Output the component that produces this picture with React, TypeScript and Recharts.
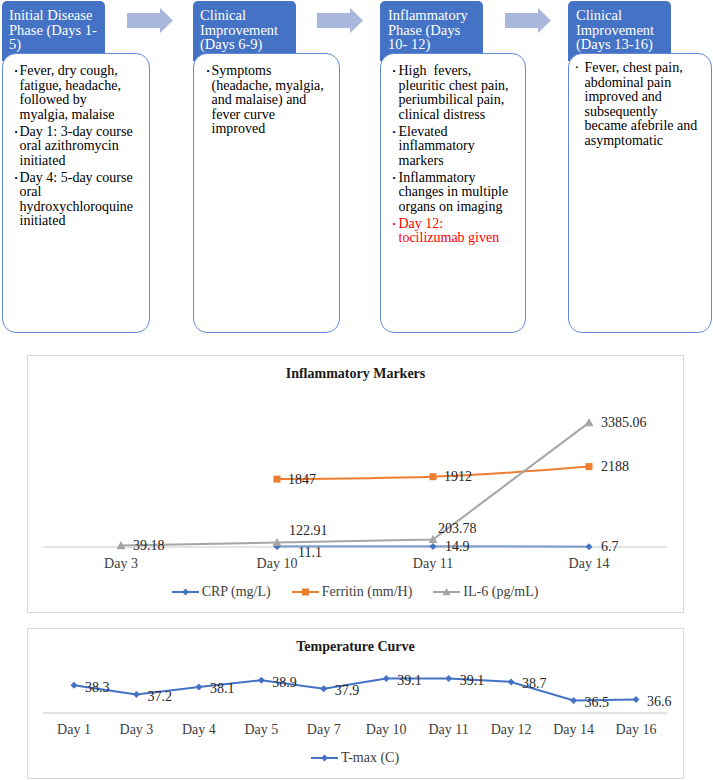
import React from "react";
import { LineChart, Line, XAxis, YAxis, Legend, LabelList } from "recharts";

// ---- chart data ----
const markerDays = ["Day 3", "Day 10", "Day 11", "Day 14"];
const crpValues = [null, 11.1, 14.9, 6.7];
const ferritinValues = [null, 1847, 1912, 2188];
const il6Values = [39.18, 122.91, 203.78, 3385.06];

const tempDays = ["Day 1", "Day 3", "Day 4", "Day 5", "Day 7", "Day 10", "Day 11", "Day 12", "Day 14", "Day 16"];
const tmaxValues = [38.3, 37.2, 38.1, 38.9, 37.9, 39.1, 39.1, 38.7, 36.5, 36.6];

// ---- timeline text ----
const phaseTitles = [
  ["Initial Disease", "Phase (Days 1-", "5)"],
  ["Clinical", "Improvement", "(Days 6-9)"],
  ["Inflammatory", "Phase (Days", "10- 12)"],
  ["Clinical", "Improvement", "(Days 13-16)"],
];
const phaseNotes = [
  [
    ["Fever, dry cough,", "fatigue, headache,", "followed by", "myalgia, malaise"],
    ["Day 1: 3-day course", "oral azithromycin", "initiated"],
    ["Day 4: 5-day course", "oral", "hydroxychloroquine", "initiated"],
  ],
  [["Symptoms", "(headache, myalgia,", "and malaise) and", "fever curve", "improved"]],
  [
    ["High  fevers,", "pleuritic chest pain,", "periumbilical pain,", "clinical distress"],
    ["Elevated", "inflammatory", "markers"],
    ["Inflammatory", "changes in multiple", "organs on imaging"],
    ["Day 12:", "tocilizumab given"],
  ],
  [["Fever, chest pain,", "abdominal pain", "improved and", "subsequently", "became afebrile and", "asymptomatic"]],
];

const SERIF = '"Liberation Serif", "Times New Roman", serif';
const BLUE = "#4472C4";
const ORANGE = "#ED7D31";
const GRAY = "#A5A5A5";

const tabX = [2, 193, 380, 568];
const boxW = [148, 147, 146, 144];
const arrowX = [127, 317, 505];
const bulletDx = [13, 14, 13, 7];
const textDx = [18, 19, 19, 17];

function marker(kind: string, cx: number, cy: number, color: string, s: number) {
  if (kind === "diamond")
    return <polygon points={`${cx},${cy - s} ${cx + s},${cy} ${cx},${cy + s} ${cx - s},${cy}`} fill={color} />;
  if (kind === "square")
    return <rect x={cx - s} y={cy - s} width={s * 2} height={s * 2} fill={color} />;
  return <polygon points={`${cx},${cy - s} ${cx + s},${cy + s * 0.8} ${cx - s},${cy + s * 0.8}`} fill={color} />;
}

const makeDot = (kind: string, color: string, s: number) => (props: any) => {
  const { cx, cy, index, value } = props;
  if (cx == null || cy == null || value == null || Number.isNaN(cy)) return <g key={`d${index}`} />;
  return <g key={`d${index}`}>{marker(kind, cx, cy, color, s)}</g>;
};

const makeLabel = (offsets: number[][]) => (props: any) => {
  const { x, y, value, index } = props;
  if (value == null || x == null || y == null) return null;
  const [dx, dy] = offsets[index] || [11, 0];
  return (
    <text x={x + dx} y={y + dy} dominantBaseline="central" fontSize={14} fontFamily={SERIF} fill="#262626">
      {value}
    </text>
  );
};

function LegendRow({ items }: { items: { label: string; color: string; kind: string; s: number }[] }) {
  return (
    <div style={{ display: "flex", justifyContent: "center", alignItems: "center", height: 30, gap: 21 }}>
      {items.map((it) => (
        <div key={it.label} style={{ display: "flex", alignItems: "center" }}>
          <svg width={27} height={12}>
            <line x1={0} y1={6} x2={27} y2={6} stroke={it.color} strokeWidth={2} />
            {marker(it.kind, 13.5, 6, it.color, it.s)}
          </svg>
          <span style={{ marginLeft: 3, fontFamily: SERIF, fontSize: 14, color: "#404040" }}>{it.label}</span>
        </div>
      ))}
    </div>
  );
}

function Timeline() {
  return (
    <>
      {tabX.map((x, i) => (
        <div
          key={`tab${i}`}
          style={{
            position: "absolute",
            left: x,
            top: 1,
            width: 103,
            height: 60,
            background: BLUE,
            borderRadius: "5px 5px 0 0",
            color: "#fff",
            fontFamily: SERIF,
            fontSize: 14.5,
            lineHeight: "14.5px",
            paddingTop: 7,
            paddingLeft: i < 2 ? 7 : 8,
            boxSizing: "border-box",
          }}
        >
          {phaseTitles[i].map((t) => (
            <div key={t} style={{ whiteSpace: "nowrap" }}>{t}</div>
          ))}
        </div>
      ))}
      {arrowX.map((x, i) => (
        <svg key={`ar${i}`} style={{ position: "absolute", left: x, top: 8 }} width={46} height={26}>
          <polygon points="0,5 33,5 33,0 46,12.5 33,25 33,20 0,20" fill="#A9B7DD" />
        </svg>
      ))}
      {tabX.map((x, i) => (
        <div
          key={`box${i}`}
          style={{
            position: "absolute",
            left: x,
            top: 53,
            width: boxW[i],
            height: 280,
            background: "#fff",
            border: "1.5px solid #6189D7",
            borderRadius: 14,
            boxSizing: "border-box",
          }}
        >
          <div style={{ position: "absolute", left: textDx[i] - 1.5, top: (i === 3 ? 8.75 : 11.75) - 1.5 }}>
            {phaseNotes[i].map((para, j) => {
              const red = i === 2 && j === 3;
              return (
                <div
                  key={j}
                  style={{
                    position: "relative",
                    marginBottom: 2.5,
                    fontFamily: SERIF,
                    fontSize: 14,
                    lineHeight: "14.5px",
                    color: red ? "#FF0000" : "#000",
                  }}
                >
                  <span
                    style={{
                      position: "absolute",
                      left: bulletDx[i] - textDx[i],
                      top: 0,
                      fontSize: i === 3 ? 14 : 9,
                      lineHeight: "14.5px",
                    }}
                  >
                    {i === 3 ? "·" : "•"}
                  </span>
                  {para.map((line) => (
                    <div key={line} style={{ whiteSpace: "pre" }}>{line}</div>
                  ))}
                </div>
              );
            })}
          </div>
        </div>
      ))}
    </>
  );
}

const markerData = markerDays.map((day, i) => ({
  day,
  crp: crpValues[i],
  ferritin: ferritinValues[i],
  il6: il6Values[i],
}));

const tempData = tempDays.map((day, i) => ({ day, tmax: tmaxValues[i] }));

const tickStyle = { fill: "#404040", fontSize: 14, fontFamily: SERIF };

function ChartTitle({ text }: { text: string }) {
  return (
    <div
      style={{
        position: "absolute",
        left: 0,
        right: 0,
        top: 9,
        textAlign: "center",
        fontFamily: SERIF,
        fontWeight: "bold",
        fontSize: 14,
        lineHeight: "18px",
        color: "#1a1a1a",
        zIndex: 1,
      }}
    >
      {text}
    </div>
  );
}

function MarkersChart() {
  return (
    <div
      style={{
        position: "absolute",
        left: 27,
        top: 355,
        width: 657,
        height: 258,
        border: "1px solid #D9D9D9",
        boxSizing: "border-box",
      }}
    >
      <ChartTitle text="Inflammatory Markers" />
      <LineChart width={655} height={256} data={markerData} margin={{ top: 44, right: 16, bottom: 5, left: 15 }}>
        <XAxis
          dataKey="day"
          padding={{ left: 78, right: 78 }}
          height={30}
          tickLine={false}
          tickSize={0}
          tickMargin={11}
          stroke="#C8C8C8"
          tick={tickStyle}
          interval={0}
        />
        <YAxis hide domain={[0, 4000]} />
        <Legend
          verticalAlign="bottom"
          height={30}
          content={() => (
            <LegendRow
              items={[
                { label: "CRP (mg/L)", color: BLUE, kind: "diamond", s: 3.5 },
                { label: "Ferritin (mm/H)", color: ORANGE, kind: "square", s: 3.5 },
                { label: "IL-6 (pg/mL)", color: GRAY, kind: "triangle", s: 4 },
              ]}
            />
          )}
        />
        <Line
          dataKey="crp"
          type="linear"
          stroke={BLUE}
          strokeWidth={2}
          dot={makeDot("diamond", BLUE, 3.5)}
          isAnimationActive={false}
        >
          <LabelList dataKey="crp" content={makeLabel([[12, 0], [21, 6], [12, 0], [12, 0]])} />
        </Line>
        <Line
          dataKey="ferritin"
          type="monotone"
          stroke={ORANGE}
          strokeWidth={2}
          dot={makeDot("square", ORANGE, 3.5)}
          isAnimationActive={false}
        >
          <LabelList dataKey="ferritin" content={makeLabel([[11, 0], [11, 0], [11, 0], [12, 0]])} />
        </Line>
        <Line
          dataKey="il6"
          type="linear"
          stroke={GRAY}
          strokeWidth={2}
          dot={makeDot("triangle", GRAY, 4.5)}
          isAnimationActive={false}
        >
          <LabelList dataKey="il6" content={makeLabel([[12, 0], [12, -12], [5, -11], [12, 0]])} />
        </Line>
      </LineChart>
    </div>
  );
}

function TemperatureChart() {
  return (
    <div
      style={{
        position: "absolute",
        left: 27,
        top: 628,
        width: 657,
        height: 151,
        border: "1px solid #D9D9D9",
        boxSizing: "border-box",
      }}
    >
      <ChartTitle text="Temperature Curve" />
      <LineChart width={655} height={149} data={tempData} margin={{ top: 42, right: 16, bottom: 5, left: 15 }}>
        <XAxis
          dataKey="day"
          padding={{ left: 31, right: 31 }}
          height={30}
          tickLine={false}
          tickSize={0}
          tickMargin={11}
          stroke="#C8C8C8"
          tick={tickStyle}
          interval={0}
        />
        <YAxis hide domain={[35, 40]} />
        <Legend
          verticalAlign="bottom"
          height={30}
          content={() => <LegendRow items={[{ label: "T-max (C)", color: BLUE, kind: "diamond", s: 3.5 }]} />}
        />
        <Line
          dataKey="tmax"
          type="linear"
          stroke={BLUE}
          strokeWidth={2}
          dot={makeDot("diamond", BLUE, 3.5)}
          isAnimationActive={false}
        >
          <LabelList dataKey="tmax" content={makeLabel(tmaxValues.map(() => [11, 2]))} />
        </Line>
      </LineChart>
    </div>
  );
}

export default function App() {
  return (
    <div style={{ position: "absolute", left: 0, top: 0, width: 713, height: 780, background: "#fff" }}>
      <Timeline />
      <MarkersChart />
      <TemperatureChart />
    </div>
  );
}
